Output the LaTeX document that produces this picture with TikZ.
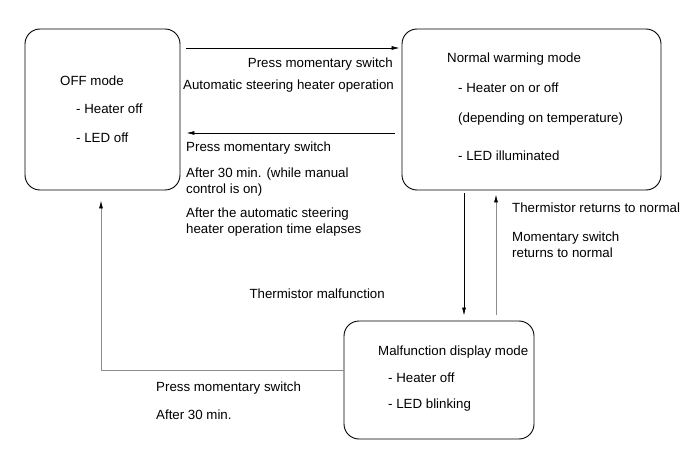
\documentclass[tikz,border=0pt]{standalone}
\usepackage{fontspec}
\setmainfont{Liberation Sans}
\usepackage{tikz}
\usetikzlibrary{arrows.meta,positioning}

\begin{document}
\begin{tikzpicture}[
  x=1pt, y=-1pt,
  font=\fontsize{13.3}{16}\selectfont,
  modebox/.style={
    draw=black, line width=0.9pt, rounded corners=15pt,
    inner sep=0pt,
  },
  txt/.style={anchor=base west, inner sep=0pt},
  txtr/.style={anchor=base east, inner sep=0pt},
  trans/.style={draw=black, line width=0.7pt,
    -{Latex[length=8pt,width=4pt]}},
  transgray/.style={draw=black!45, line width=0.8pt,
    -{Latex[length=8pt,width=4pt,fill=black,color=black]}},
]
\useasboundingbox (0,0) rectangle (691,465);

% === MODE BOXES ===
\node[modebox, minimum width=155pt, minimum height=161pt] (off)    at (102.5,109.5) {};
\node[modebox, minimum width=259pt, minimum height=161pt] (normal) at (531.5,109.5) {};
\node[modebox, minimum width=190pt, minimum height=118pt] (malf)   at (439,380) {};

% === BOX TEXTS ===
\node[txt] (offtitle) at (60,85.5)   {OFF mode};
\node[txt] (offheat)  at (76,113.5)  {- Heater off};
\node[txt] (offled)   at (76,142.5)  {- LED off};

\node[txt] (nrmtitle) at (447,62.5)  {Normal warming mode};
\node[txt] (nrmheat)  at (458,92.5)  {- Heater on or off};
\node[txt] (nrmdep)   at (458,122.5) {(depending on temperature)};
\node[txt] (nrmled)   at (458,160.5) {- LED illuminated};

\node[txt] (mlftitle) at (378,355.5) {Malfunction display mode};
\node[txt] (mlfheat)  at (388,382.5) {- Heater off};
\node[txt] (mlfled)   at (388,408.5) {- LED blinking};

% === TRANSITIONS ===
\draw[trans] ([xshift=6pt,yshift=61.5pt]off.east) -- ([xshift=-2pt,yshift=61.5pt]normal.west);
\draw[trans] ([xshift=-7pt,yshift=-23.5pt]normal.west) -- ([xshift=6pt,yshift=-23.5pt]off.east);
\draw[trans] ([xshift=-67.5pt,yshift=-3pt]normal.south) -- ([xshift=25pt,yshift=5pt]malf.north);
\draw[transgray] ([xshift=57pt,yshift=6pt]malf.north) -- ([xshift=-35.5pt,yshift=-4pt]normal.south);
\draw[transgray] ([yshift=10pt]malf.west) -| ([xshift=-1.5pt,yshift=-10pt]off.south);

% === TRANSITION LABELS ===
\node[txtr] (l_press1) at (393,67.5)  {Press momentary switch};
\node[txt]  (l_auto)   at (183,89.5)  {Automatic steering heater operation};

\node[txt] (l_press2)  at (186,151.5) {Press momentary switch};
\node[txt] (l_after1a) at (186,177.5) {After 30 min. (while manual};
\node[txt] (l_after1b) at (186,193.5) {control is on)};
\node[txt] (l_after2a) at (186,217.5) {After the automatic steering};
\node[txt] (l_after2b) at (186,233.5) {heater operation time elapses};

\node[txt]  (l_threturn) at (512,212.5) {Thermistor returns to normal};
\node[txt]  (l_mom1)     at (512,241.5) {Momentary switch};
\node[txt]  (l_mom2)     at (512,257.5) {returns to normal};
\node[txtr] (l_thmal)    at (385,298.5) {Thermistor malfunction};

\node[txt] (l_press3) at (156,391.5) {Press momentary switch};
\node[txt] (l_after3) at (156,419.5) {After 30 min.};

\end{tikzpicture}
\end{document}
